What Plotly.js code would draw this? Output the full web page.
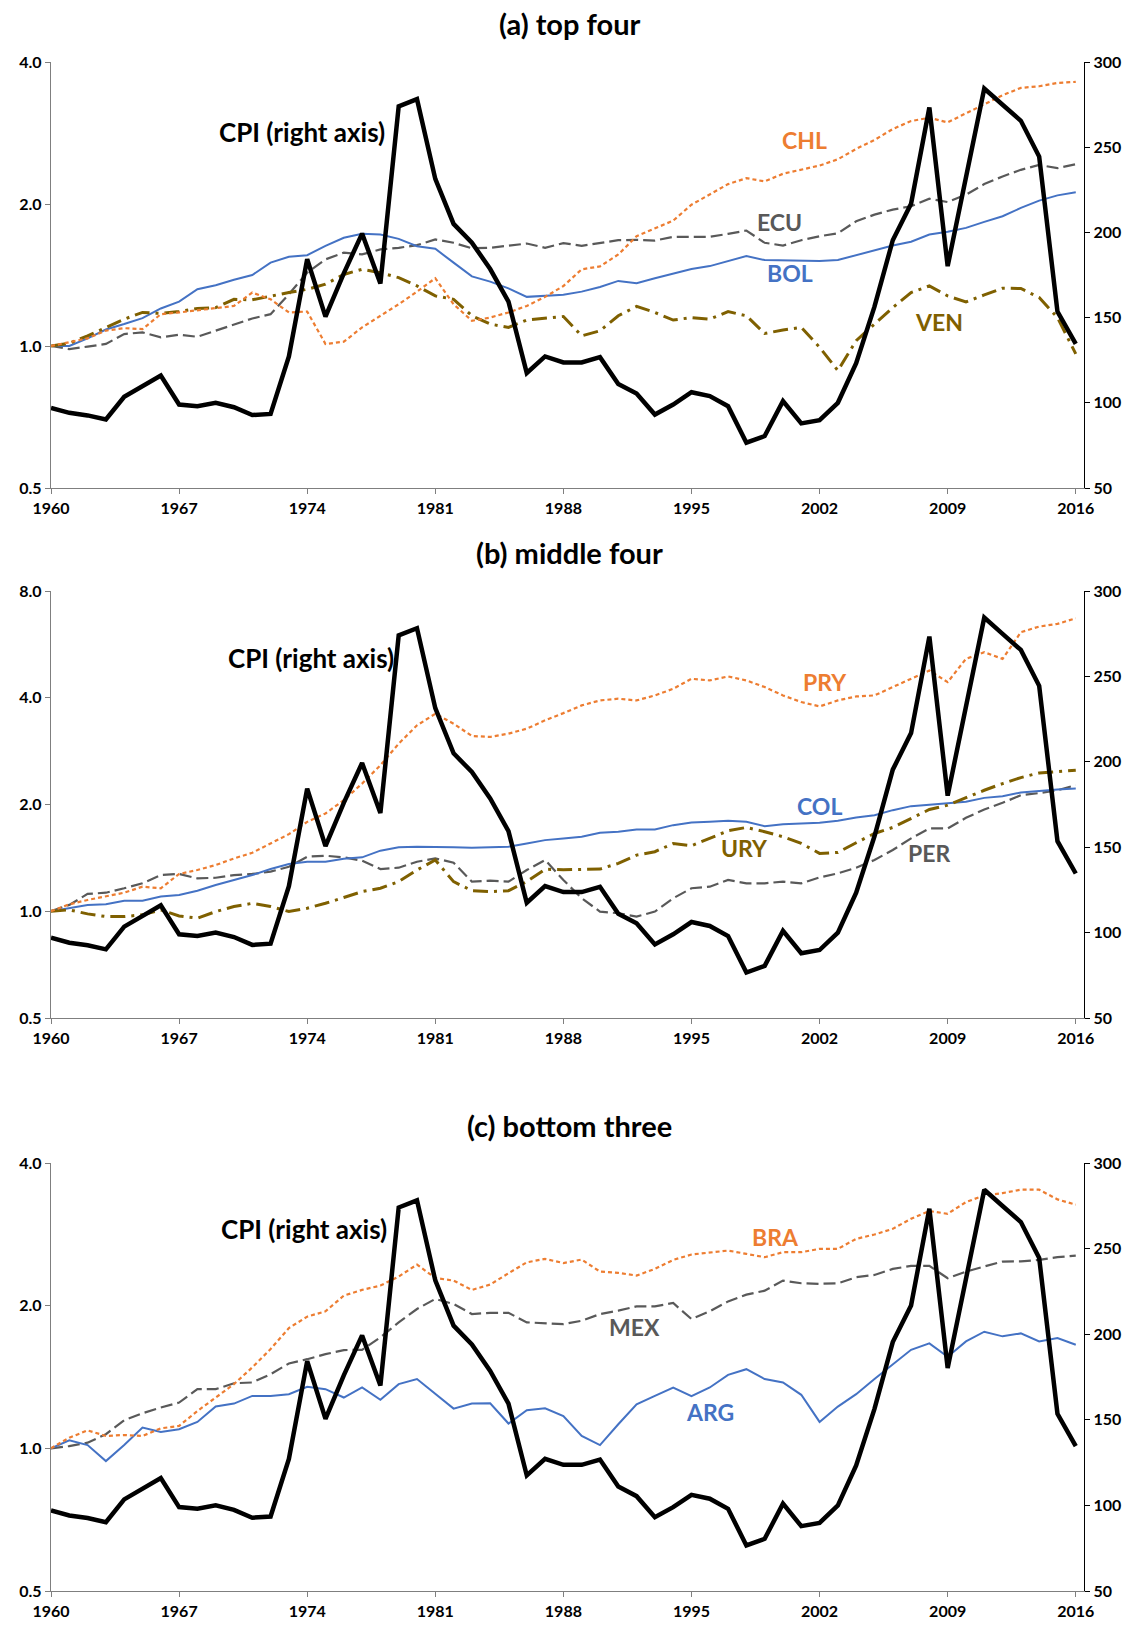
<!DOCTYPE html>
<html>
<head>
<meta charset="utf-8">
<script src="https://cdn.plot.ly/plotly-3.0.1.min.js"></script>
<style>
html,body{margin:0;padding:0;background:#fff;}
#chart{width:1138px;height:1625px;}
</style>
</head>
<body>
<div id="chart"></div>
<script>
// ---------- DATA ----------
const years = [1960,1961,1962,1963,1964,1965,1966,1967,1968,1969,
  1970,1971,1972,1973,1974,1975,1976,1977,1978,1979,
  1980,1981,1982,1983,1984,1985,1986,1987,1988,1989,
  1990,1991,1992,1993,1994,1995,1996,1997,1998,1999,
  2000,2001,2002,2003,2004,2005,2006,2007,2008,2009,
  2010,2011,2012,2013,2014,2015,2016];
const xTickVals = [1960,1967,1974,1981,1988,1995,2002,2009,2016];

const cpi = [97,94.1,92.6,90.2,103.5,110,116,99,98,100,
  97.4,92.8,93.5,127.2,184.3,150.6,176,199.3,170,274,
  278.2,231.4,205,194,178.5,159.4,117.5,127.2,123.7,123.7,
  126.8,111,105.4,93.1,99,106.2,103.9,98,76.6,80.5,
  101,87.9,89.8,100,123.3,156.4,195.4,216.8,273.3,180.2,
  232.4,284.4,274.9,265.5,244.5,153.5,134.6];

// (a) top four
const chl = [1.0,1.018,1.038,1.078,1.091,1.086,1.168,1.178,1.191,1.206,
  1.216,1.298,1.256,1.178,1.183,1.01,1.021,1.095,1.159,1.226,
  1.304,1.392,1.226,1.131,1.149,1.178,1.216,1.271,1.34,1.454,
  1.475,1.563,1.709,1.774,1.844,1.993,2.099,2.204,2.269,2.233,
  2.318,2.363,2.413,2.488,2.617,2.734,2.884,2.998,3.047,2.979,
  3.112,3.251,3.401,3.525,3.553,3.612,3.630];
const ecu = [1.0,0.985,0.997,1.01,1.06,1.069,1.043,1.057,1.046,1.077,
  1.113,1.144,1.168,1.288,1.43,1.526,1.577,1.564,1.602,1.615,
  1.636,1.682,1.655,1.611,1.615,1.631,1.649,1.615,1.652,1.631,
  1.655,1.676,1.679,1.673,1.704,1.701,1.704,1.729,1.757,1.655,
  1.633,1.676,1.709,1.734,1.838,1.899,1.946,1.978,2.052,2.019,
  2.093,2.204,2.288,2.363,2.421,2.382,2.429];
const bol = [1.0,1.0,1.038,1.084,1.113,1.146,1.201,1.242,1.319,1.345,
  1.382,1.414,1.502,1.546,1.558,1.631,1.696,1.729,1.723,1.687,
  1.628,1.607,1.502,1.405,1.369,1.325,1.271,1.277,1.285,1.304,
  1.334,1.374,1.358,1.392,1.423,1.456,1.477,1.511,1.551,1.521,
  1.519,1.514,1.514,1.521,1.558,1.594,1.634,1.663,1.723,1.746,
  1.780,1.833,1.884,1.962,2.033,2.086,2.117];
const ven = [1.0,1.013,1.051,1.095,1.14,1.178,1.172,1.183,1.201,1.206,
  1.256,1.253,1.277,1.298,1.319,1.352,1.418,1.454,1.43,1.396,
  1.341,1.277,1.256,1.159,1.113,1.095,1.135,1.144,1.155,1.051,
  1.077,1.159,1.213,1.178,1.135,1.149,1.14,1.183,1.159,1.063,
  1.081,1.095,0.994,0.887,1.026,1.113,1.206,1.298,1.341,1.277,
  1.24,1.283,1.326,1.324,1.267,1.149,0.962];

// (b) middle four
const pry = [1.0,1.046,1.076,1.099,1.128,1.173,1.161,1.274,1.307,1.35,
  1.409,1.462,1.553,1.65,1.787,1.887,2.057,2.291,2.581,2.969,
  3.344,3.606,3.38,3.121,3.101,3.168,3.273,3.454,3.62,3.806,
  3.931,3.975,3.931,4.061,4.24,4.524,4.476,4.593,4.476,4.287,
  4.061,3.89,3.782,3.931,4.034,4.061,4.287,4.524,4.775,4.426,
  5.149,5.376,5.149,6.121,6.35,6.461,6.703];
const col = [1.0,1.02,1.042,1.046,1.071,1.071,1.1,1.112,1.143,1.186,
  1.225,1.265,1.315,1.359,1.379,1.379,1.406,1.419,1.482,1.514,
  1.521,1.521,1.514,1.511,1.514,1.521,1.553,1.587,1.604,1.622,
  1.665,1.676,1.701,1.701,1.749,1.78,1.788,1.799,1.788,1.738,
  1.76,1.768,1.776,1.799,1.839,1.866,1.928,1.979,2.0,2.014,
  2.035,2.088,2.111,2.162,2.185,2.205,2.218];
const per = [1.0,1.042,1.119,1.128,1.161,1.199,1.265,1.274,1.238,1.243,
  1.265,1.274,1.293,1.335,1.425,1.434,1.419,1.389,1.315,1.327,
  1.379,1.409,1.371,1.212,1.22,1.212,1.307,1.395,1.225,1.088,
  0.998,0.987,0.966,0.998,1.088,1.161,1.173,1.225,1.199,1.199,
  1.212,1.199,1.246,1.279,1.327,1.395,1.488,1.605,1.712,1.712,
  1.834,1.936,2.022,2.124,2.154,2.194,2.267];
const ury = [1.0,1.009,0.983,0.966,0.966,0.977,1.009,0.97,0.956,0.998,
  1.031,1.053,1.031,0.998,1.02,1.053,1.093,1.136,1.161,1.212,
  1.307,1.395,1.212,1.143,1.136,1.143,1.212,1.313,1.31,1.313,
  1.315,1.365,1.44,1.472,1.553,1.53,1.605,1.686,1.723,1.676,
  1.622,1.553,1.456,1.465,1.56,1.657,1.723,1.826,1.936,1.991,
  2.093,2.194,2.291,2.382,2.455,2.481,2.498];

// (c) bottom three
const bra = [1.0,1.053,1.091,1.062,1.067,1.062,1.102,1.115,1.199,1.28,
  1.366,1.482,1.62,1.794,1.896,1.946,2.1,2.159,2.205,2.304,
  2.442,2.288,2.259,2.159,2.216,2.341,2.469,2.51,2.46,2.502,
  2.36,2.345,2.315,2.391,2.498,2.564,2.585,2.614,2.572,2.531,
  2.593,2.593,2.636,2.636,2.767,2.826,2.905,3.051,3.167,3.125,
  3.308,3.418,3.456,3.513,3.513,3.352,3.266];
const mex = [1.0,1.011,1.028,1.071,1.146,1.186,1.219,1.249,1.333,1.333,
  1.372,1.377,1.434,1.51,1.542,1.58,1.612,1.614,1.714,1.844,
  1.968,2.066,2.016,1.92,1.932,1.932,1.844,1.836,1.828,1.859,
  1.92,1.952,1.993,1.993,2.026,1.874,1.946,2.042,2.11,2.151,
  2.259,2.23,2.224,2.23,2.296,2.322,2.391,2.426,2.426,2.285,
  2.36,2.419,2.478,2.481,2.498,2.531,2.551];
const arg = [1.0,1.04,1.016,0.94,1.016,1.106,1.083,1.097,1.137,1.225,
  1.243,1.29,1.29,1.301,1.348,1.333,1.28,1.344,1.266,1.366,
  1.4,1.301,1.213,1.243,1.245,1.128,1.203,1.215,1.169,1.062,
  1.016,1.124,1.239,1.29,1.344,1.288,1.344,1.429,1.469,1.4,
  1.377,1.297,1.137,1.225,1.301,1.4,1.505,1.614,1.665,1.56,
  1.681,1.762,1.723,1.748,1.681,1.709,1.654];

const panelTitles = ["(a) top four","(b) middle four","(c) bottom three"];
const leftTicksAC = [0.5,1,2,4];
const leftTicksB = [0.5,1,2,4,8];
const rightTicks = [50,100,150,200,250,300];

// ---------- STYLES ----------
const ORANGE = "#ED7D31", BLUE = "#4472C4", GRAY = "#595959", OLIVE = "#7F6000";
const FONT = "Lato, 'Open Sans', sans-serif";
const sOrange = {color:ORANGE, width:2.2, dash:"4px,3px"};
const sBlue = {color:BLUE, width:2};
const sGray = {color:GRAY, width:2.2, dash:"12px,5px"};
const sOlive = {color:OLIVE, width:3, dash:"15px,6px,3px,6px"};
const sCPI = {color:"#000", width:4.5};

function tr(y, line, xa, ya){
  return {x:years, y:y, type:"scatter", mode:"lines", line:line, xaxis:xa, yaxis:ya, hoverinfo:"skip", showlegend:false};
}

const data = [
  tr(ecu, sGray, "x","y"), tr(bol, sBlue, "x","y"), tr(ven, sOlive, "x","y"), tr(chl, sOrange, "x","y"),
  tr(cpi, sCPI, "x","y2"),
  tr(per, sGray, "x2","y3"), tr(col, sBlue, "x2","y3"), tr(ury, sOlive, "x2","y3"), tr(pry, sOrange, "x2","y3"),
  tr(cpi, sCPI, "x2","y4"),
  tr(mex, sGray, "x3","y5"), tr(arg, sBlue, "x3","y5"), tr(bra, sOrange, "x3","y5"),
  tr(cpi, sCPI, "x3","y6")
];

const H = 1625;
function dom(topPx, botPx){ return [1 - botPx/H, 1 - topPx/H]; }
const tickFont = {family:FONT, size:16, color:"#000", weight:"bold"};
const axisLineColor = "#7f7f7f";

function xAxis(anchor){
  return {anchor:anchor, domain:[0,1], range:[1960,2016.45], tickmode:"array", tickvals:xTickVals,
    ticktext:xTickVals.map(String), ticks:"outside", ticklen:5, tickcolor:axisLineColor, tickwidth:1,
    showline:true, linecolor:axisLineColor, linewidth:1.3, showgrid:false, zeroline:false,
    tickfont:tickFont, fixedrange:true};
}
function yLeft(domain, ticks, anchor){
  return {anchor:anchor, domain:domain, type:"log", range:[Math.log10(ticks[0]), Math.log10(ticks[ticks.length-1])],
    tickmode:"array", tickvals:ticks, ticktext:ticks.map(v=>v.toFixed(1)), ticks:"outside", ticklen:5,
    tickcolor:axisLineColor, showline:true, linecolor:axisLineColor, linewidth:1.3, showgrid:false, zeroline:false,
    tickfont:tickFont, fixedrange:true};
}
function yRight(over, anchor){
  return {anchor:anchor, overlaying:over, side:"right", range:[50,300], tickmode:"array", tickvals:rightTicks,
    ticks:"outside", ticklen:5, tickcolor:"#000", showline:true, linecolor:"#000", linewidth:1.3,
    showgrid:false, zeroline:false, tickfont:tickFont, fixedrange:true};
}

function lab(text, x, y, color, xr, yr, size){
  return {text:text, x:x, y:y, xref:xr, yref:yr, showarrow:false, xanchor:"center", yanchor:"middle",
    font:{family:FONT, size:size||23, color:color, weight:"bold"}};
}
function ttl(text, ypx){
  return {text:text, x:0.502, y:1 - ypx/H, xref:"paper", yref:"paper", showarrow:false, xanchor:"center", yanchor:"middle",
    font:{family:FONT, size:29, color:"#000", weight:"bold"}};
}

const layout = {
  width:1138, height:1625,
  margin:{l:51, r:54, t:0, b:0},
  paper_bgcolor:"#fff", plot_bgcolor:"#fff",
  showlegend:false, hovermode:false,
  xaxis: xAxis("y"),
  yaxis: yLeft(dom(62,488), leftTicksAC, "x"),
  yaxis2: yRight("y","x"),
  xaxis2: xAxis("y3"),
  yaxis3: yLeft(dom(591,1018), leftTicksB, "x2"),
  yaxis4: yRight("y3","x2"),
  xaxis3: xAxis("y5"),
  yaxis5: yLeft(dom(1163,1591), leftTicksAC, "x3"),
  yaxis6: yRight("y5","x3"),
  annotations:[
    ttl(panelTitles[0], 23), ttl(panelTitles[1], 552), ttl(panelTitles[2], 1125),
    lab("CPI (right axis)", 1973.7, 259, "#000", "x","y2", 26),
    lab("CHL", 2001.2, 254, ORANGE, "x","y2"),
    lab("ECU", 1999.8, 206, GRAY, "x","y2"),
    lab("BOL", 2000.4, 176.4, BLUE, "x","y2"),
    lab("VEN", 2008.5, 147.4, OLIVE, "x","y2"),
    lab("CPI (right axis)", 1974.2, 261, "#000", "x2","y4", 26),
    lab("PRY", 2002.3, 246.7, ORANGE, "x2","y4"),
    lab("COL", 2002.0, 174.1, BLUE, "x2","y4"),
    lab("URY", 1997.9, 149.5, OLIVE, "x2","y4"),
    lab("PER", 2008.0, 146.6, GRAY, "x2","y4"),
    lab("CPI (right axis)", 1973.8, 261.4, "#000", "x3","y6", 26),
    lab("BRA", 1999.6, 256.5, ORANGE, "x3","y6"),
    lab("MEX", 1991.9, 204.4, GRAY, "x3","y6"),
    lab("ARG", 1996.0, 154.8, BLUE, "x3","y6")
  ]
};

Plotly.newPlot("chart", data, layout, {staticPlot:true, displayModeBar:false});
</script>
</body>
</html>
